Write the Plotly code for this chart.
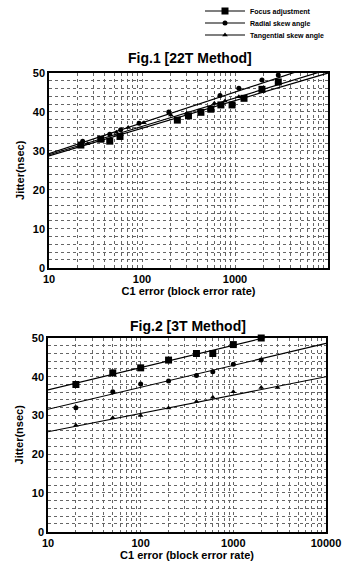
import plotly.graph_objects as go

# ---------- Fig.1 [22T Method] data ----------
f1_focus_x = [22, 36, 45, 58, 240, 316, 430, 550, 705, 930, 1250, 1950, 2920]
f1_focus_y = [31.5, 33.0, 32.5, 33.7, 37.9, 39.0, 39.9, 40.7, 41.8, 41.8, 43.5, 45.8, 47.7]
f1_radial_x = [23, 45, 59, 93, 194, 690, 1100, 1950, 2920]
f1_radial_y = [32.5, 34.3, 35.4, 37.1, 40.0, 44.2, 46.1, 48.2, 49.5]
f1_tang_x = [26, 53, 71, 105, 204, 302, 600, 780, 1100, 1950]
f1_tang_y = [31.8, 34.8, 36.0, 37.2, 39.2, 39.6, 42.2, 42.8, 43.9, 46.1]

# trend lines (end points)
trend_x = [10, 10000]
f1_focus_trend = [28.7, 50.0]
f1_radial_trend = [29.3, 53.0]
f1_tang_trend = [29.0, 50.9]

# ---------- Fig.2 [3T Method] data ----------
f2_focus_x = [20, 50, 100, 200, 400, 600, 1000, 2000]
f2_focus_y = [38.0, 41.0, 42.3, 44.3, 46.0, 46.0, 48.3, 50.0]
f2_radial_x = [20, 50, 100, 200, 400, 600, 1000, 2000]
f2_radial_y = [32.0, 36.1, 38.1, 38.9, 40.3, 41.3, 43.2, 44.3]
f2_tang_x = [20, 50, 100, 200, 400, 600, 1000, 2000, 3000]
f2_tang_y = [27.5, 29.4, 30.0, 31.9, 33.6, 34.7, 36.1, 37.2, 37.2]

f2_focus_trend = [36.6, 53.9]
f2_radial_trend = [31.6, 48.6]
f2_tang_trend = [25.8, 40.0]

series_names = ["Focus adjustment", "Radial skew angle", "Tangential skew angle"]
x_ticks = [10, 100, 1000, 10000]
x_tick_text = ["10", "100", "1000", "10000"]
y_ticks = [0, 10, 20, 30, 40, 50]

FONT = "Liberation Sans, Arial, sans-serif"
symbols = ["square", "circle", "triangle-up"]
sizes = [7, 5, 5]

fig = go.Figure()

def add_fig(xa, ya, pts, trends):
    for (px, py), tr, sym, sz in zip(pts, trends, symbols, sizes):
        fig.add_trace(go.Scatter(x=trend_x, y=tr, mode="lines",
                                 line=dict(color="black", width=1.2),
                                 xaxis=xa, yaxis=ya, showlegend=False, hoverinfo="skip"))
        fig.add_trace(go.Scatter(x=px, y=py, mode="markers",
                                 marker=dict(symbol=sym, size=sz, color="black"),
                                 xaxis=xa, yaxis=ya, showlegend=False, cliponaxis=False))

add_fig("x", "y",
        [(f1_focus_x, f1_focus_y), (f1_radial_x, f1_radial_y), (f1_tang_x, f1_tang_y)],
        [f1_focus_trend, f1_radial_trend, f1_tang_trend])
add_fig("x2", "y2",
        [(f2_focus_x, f2_focus_y), (f2_radial_x, f2_radial_y), (f2_tang_x, f2_tang_y)],
        [f2_focus_trend, f2_radial_trend, f2_tang_trend])

# legend entries (one small legend per entry so rows can sit close together)
legend_ids = ["legend", "legend2", "legend3"]
for name, sym, sz, lg in zip(series_names, symbols, sizes, legend_ids):
    fig.add_trace(go.Scatter(x=[None], y=[None], mode="lines+markers", name=name,
                             line=dict(color="black", width=1.2),
                             marker=dict(symbol=sym, size=sz, color="black"),
                             xaxis="x", yaxis="y", legend=lg))

W, H = 342, 569
def dom_x(a, b):
    return [a / W, b / W]
def dom_y(top, bot):
    return [1 - bot / H, 1 - top / H]

tickfont = dict(family=FONT, size=11, color="black", weight="bold")
titlefont = dict(family=FONT, size=11, color="black", weight="bold")
GRID = "#666"

def xaxis(domain, anchor, title):
    return dict(domain=domain, anchor=anchor, type="log", range=[1, 4],
                tickvals=x_ticks, ticktext=x_tick_text, tickfont=tickfont,
                showgrid=True, gridcolor=GRID, griddash="dot", gridwidth=1,
                minor=dict(showgrid=True, gridcolor=GRID, griddash="dot", gridwidth=1,
                           dtick="D1", ticks=""),
                showline=True, linecolor="black", linewidth=1.5, mirror=True,
                ticks="", zeroline=False, automargin=False,
                title=dict(text=title, font=titlefont, standoff=4))

def yaxis(domain, anchor):
    return dict(domain=domain, anchor=anchor, range=[0, 50], tickvals=y_ticks,
                tickfont=tickfont,
                showgrid=True, gridcolor=GRID, griddash="dot", gridwidth=1,
                minor=dict(showgrid=True, gridcolor=GRID, griddash="dot", gridwidth=1,
                           dtick=2, ticks=""),
                showline=True, linecolor="black", linewidth=1.5, mirror=True,
                ticks="", zeroline=False, automargin=False,
                title=dict(text="Jitter(nsec)", font=titlefont, standoff=6))

def legend_at(row_y):
    return dict(x=200 / W, y=1 - row_y / H, xanchor="left", yanchor="middle",
                xref="paper", yref="paper",
                font=dict(family=FONT, size=7, color="black", weight="bold"),
                bgcolor="rgba(0,0,0,0)", itemwidth=40)

fig.update_layout(
    width=W, height=H,
    margin=dict(l=0, r=0, t=0, b=0, autoexpand=False),
    paper_bgcolor="white", plot_bgcolor="white",
    font=dict(family=FONT, color="black"),
    xaxis=xaxis(dom_x(49, 328), "y", "C1 error (block error rate)"),
    yaxis=yaxis(dom_y(73, 267.7), "x"),
    xaxis2=xaxis(dom_x(48, 326), "y2", "C1 error (block error rate)"),
    yaxis2=yaxis(dom_y(338, 531.7), "x2"),
    legend=legend_at(11),
    legend2=legend_at(23),
    legend3=legend_at(35),
    annotations=[
        dict(text="Fig.1 [22T Method]", x=190 / W, y=1 - 58 / H, xref="paper", yref="paper",
             xanchor="center", yanchor="middle", showarrow=False,
             font=dict(family=FONT, size=14, color="black", weight="bold")),
        dict(text="Fig.2 [3T Method]", x=188 / W, y=1 - 326 / H, xref="paper", yref="paper",
             xanchor="center", yanchor="middle", showarrow=False,
             font=dict(family=FONT, size=14, color="black", weight="bold")),
    ],
)

fig.write_html("out.html", config={"displayModeBar": False},
               post_script="document.body.style.margin='0';document.body.style.overflow='hidden';")
